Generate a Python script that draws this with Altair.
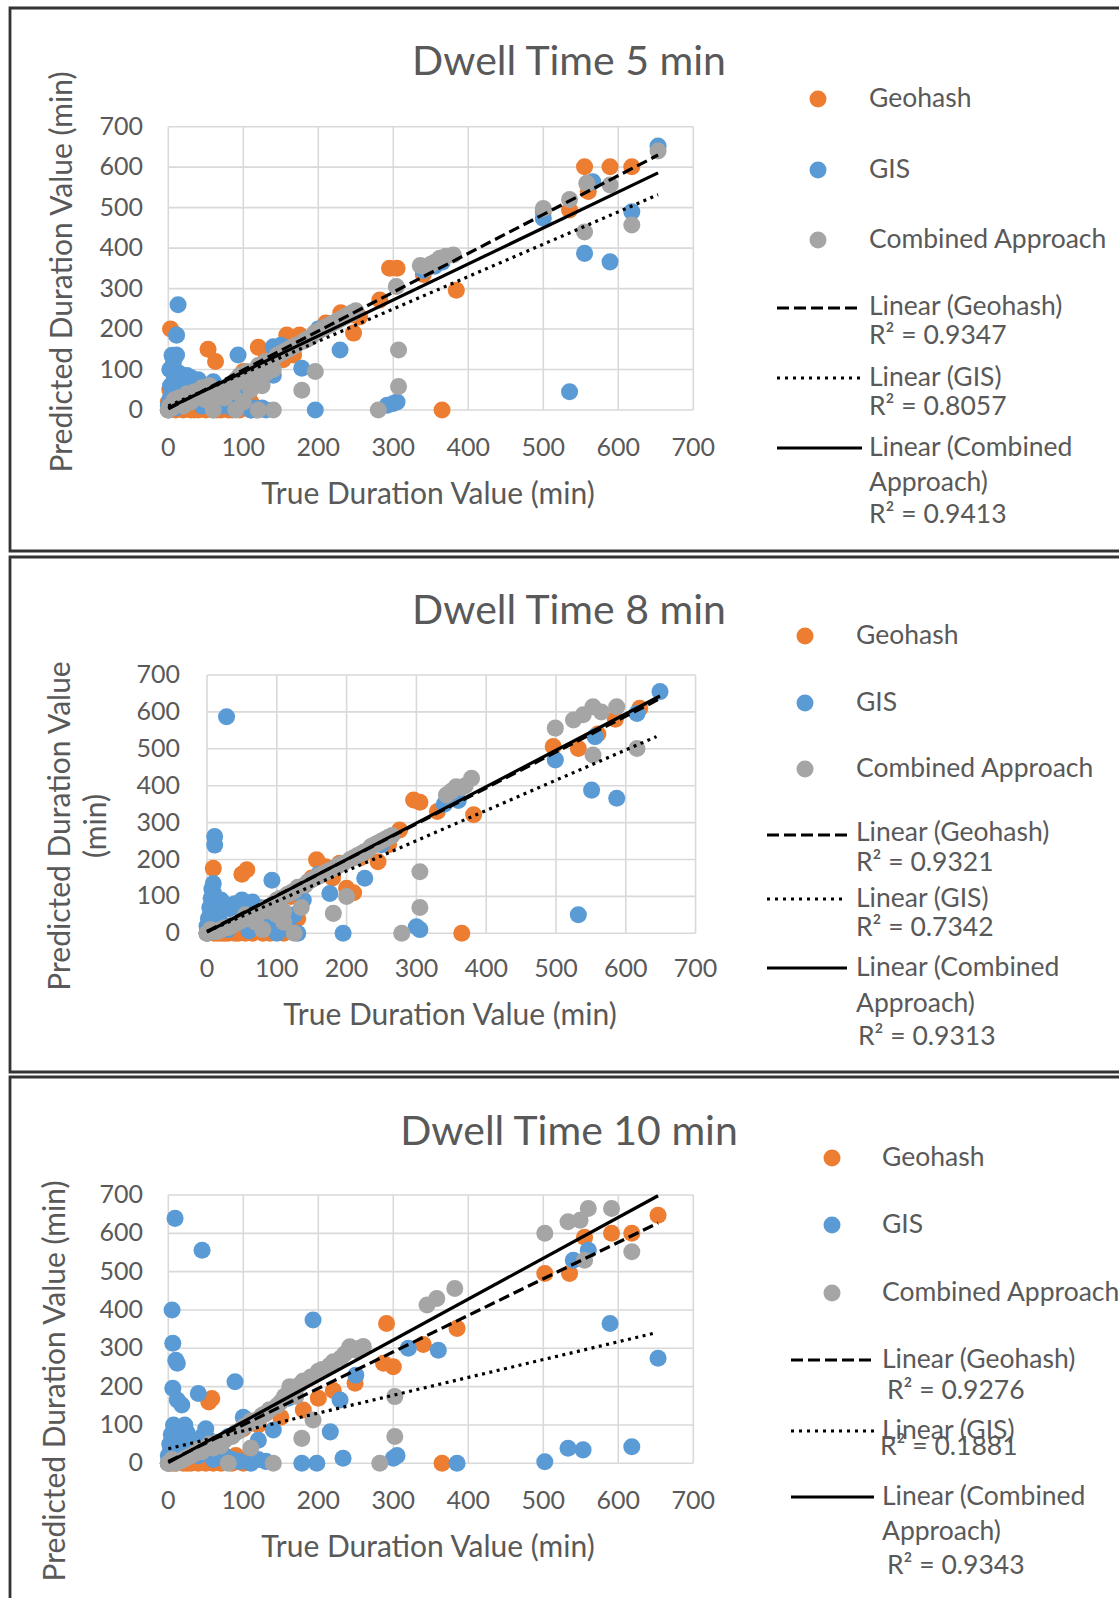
import altair as alt
import pandas as pd

# ---------------- data ----------------
TICKS = [0, 100, 200, 300, 400, 500, 600, 700]
SERIES = ["Geohash", "GIS", "Combined Approach"]
COLORS = ["#ED7D31", "#5B9BD5", "#A5A5A5"]
TITLES = ["Dwell Time 5 min", "Dwell Time 8 min", "Dwell Time 10 min"]
R2 = [["0.9347", "0.8057", "0.9413"],
      ["0.9321", "0.7342", "0.9313"],
      ["0.9276", "0.1881", "0.9343"]]

# panel 1 (Dwell Time 5 min): (true, predicted)
P1_GEO = [(0, 0), (5, 3), (10, 0), (15, 10), (20, 0), (30, 0), (40, 0), (50, 0), (60, 0), (70, 0),
          (80, 0), (90, 5), (3, 200), (8, 100), (12, 60), (20, 40), (53, 150), (63, 120), (100, 95),
          (120, 155), (110, 20), (130, 125), (150, 130), (153, 124), (158, 185), (167, 136), (175, 185),
          (185, 175), (200, 195), (210, 215), (215, 210), (230, 240), (245, 235), (247, 190), (255, 230),
          (282, 272), (295, 350), (305, 350), (365, 0), (384, 296), (340, 335), (535, 494), (555, 601),
          (589, 601), (618, 601), (500, 490), (560, 540),
          (0, 20), (2, 50), (35, 0), (25, 5), (45, 5), (65, 0), (85, 0), (95, 0), (75, 5), (110, 0)]
P1_GIS = [(0, 0), (2, 20), (5, 40), (3, 60), (8, 80), (5, 135), (11, 136), (11, 185), (13, 260), (15, 90),
          (20, 70), (30, 80), (40, 75), (25, 30), (45, 10), (60, 4), (70, 10), (50, 50), (93, 136), (100, 60),
          (118, 0), (115, 5), (140, 156), (140, 86), (178, 103), (196, 0), (229, 148), (150, 160), (200, 200),
          (292, 12), (300, 16), (305, 20), (340, 345), (355, 355), (365, 365), (500, 474), (535, 45),
          (555, 387), (589, 366), (618, 490), (566, 564), (653, 652), (80, 40), (60, 70), (160, 150), (35, 50),
          (0, 10), (3, 30), (6, 50), (2, 100), (7, 120), (10, 95), (18, 60), (25, 85), (35, 70), (45, 60),
          (55, 30), (65, 20), (75, 15), (85, 5), (100, 10), (110, 0), (125, 5), (130, 0), (10, 5), (20, 15)]
P1_COMB = [(0, 0), (5, 5), (10, 15), (20, 10), (30, 20), (40, 30), (50, 25), (60, 40), (70, 50), (80, 60),
           (90, 75), (95, 85), (100, 20), (105, 95), (110, 50), (120, 110), (125, 60), (130, 120), (140, 0),
           (145, 135), (160, 150), (170, 160), (178, 49), (180, 170), (190, 180), (196, 95), (200, 195),
           (210, 205), (220, 215), (230, 225), (240, 235), (250, 245), (280, 0), (304, 305), (307, 148),
           (307, 58), (336, 357), (350, 360), (362, 375), (380, 383), (500, 498), (535, 520), (558, 560),
           (555, 440), (589, 556), (618, 457), (653, 640), (60, 0), (90, 0), (120, 0),
           (2, 10), (8, 25), (15, 30), (25, 40), (35, 45), (45, 55), (55, 60), (65, 35), (75, 30), (85, 45),
           (100, 70), (115, 80), (130, 90), (140, 100), (150, 140), (155, 145), (165, 155), (185, 175),
           (195, 190), (205, 200), (215, 210), (225, 220), (235, 230), (245, 240), (345, 350), (355, 365),
           (370, 380)]

# panel 2 (Dwell Time 8 min)
P2_GEO = [(0, 0), (5, 5), (10, 0), (20, 0), (30, 0), (40, 0), (55, 0), (70, 10), (90, 20), (9, 176),
          (50, 160), (57, 172), (100, 60), (120, 100), (140, 130), (157, 199), (170, 180), (200, 122),
          (210, 110), (220, 205), (245, 194), (260, 240), (276, 280), (296, 361), (305, 355), (330, 330),
          (365, 0), (382, 321), (496, 506), (532, 501), (560, 540), (585, 580), (620, 610), (100, 30),
          (130, 40), (180, 150),
          (15, 0), (25, 0), (35, 5), (45, 0), (65, 0), (80, 0), (90, 0), (110, 0), (150, 150), (190, 190)]
P2_GIS = [(0, 0), (3, 20), (5, 50), (8, 80), (9, 110), (9, 135), (11, 239), (11, 262), (15, 60), (20, 90),
          (28, 587), (30, 70), (40, 80), (50, 90), (60, 75), (60, 7), (70, 60), (93, 144), (100, 80), (119, 9),
          (125, 50), (138, 90), (176, 108), (195, 0), (226, 149), (160, 160), (250, 240), (300, 18), (305, 10),
          (340, 350), (360, 360), (499, 470), (532, 50), (551, 388), (556, 533), (587, 366), (616, 596),
          (649, 655), (30, 10), (45, 40),
          (0, 20), (2, 40), (4, 70), (6, 95), (7, 120), (12, 85), (18, 75), (25, 80), (35, 65), (55, 80),
          (65, 85), (75, 70), (85, 60), (90, 40), (110, 20), (100, 0), (130, 0), (20, 30)]
P2_COMB = [(0, 0), (5, 10), (15, 5), (25, 15), (35, 20), (45, 30), (60, 40), (75, 55), (85, 70), (95, 80),
           (105, 95), (110, 30), (120, 110), (125, 0), (130, 125), (140, 130), (150, 145), (160, 155),
           (170, 165), (181, 54), (185, 180), (195, 190), (200, 100), (205, 200), (215, 210), (225, 220),
           (235, 235), (245, 245), (255, 255), (265, 265), (279, 0), (305, 167), (305, 70), (343, 375),
           (357, 397), (370, 400), (379, 420), (499, 556), (525, 578), (539, 592), (553, 614), (553, 483),
           (565, 600), (587, 614), (616, 501), (80, 10), (100, 50),
           (10, 5), (20, 10), (30, 15), (40, 25), (50, 35), (55, 50), (65, 45), (70, 30), (90, 60), (100, 90),
           (110, 60), (115, 105), (125, 115), (135, 70), (145, 140), (155, 150), (165, 160), (175, 170),
           (190, 185), (210, 205), (220, 215), (230, 225), (240, 240), (250, 250), (260, 260), (350, 385),
           (365, 395)]

# panel 3 (Dwell Time 10 min)
P3_GEO = [(0, 0), (5, 0), (15, 5), (25, 0), (40, 0), (60, 0), (75, 10), (90, 20), (54, 160), (58, 169),
          (100, 90), (120, 100), (150, 120), (180, 139), (200, 170), (220, 190), (249, 209), (287, 261),
          (291, 365), (300, 252), (340, 310), (365, 0), (385, 352), (502, 495), (535, 495), (555, 590),
          (591, 600), (618, 600), (653, 647), (130, 130),
          (10, 0), (20, 0), (30, 0), (50, 0), (70, 0), (85, 0), (100, 0), (110, 20), (45, 5)]
P3_GIS = [(0, 0), (3, 30), (5, 60), (8, 90), (9, 639), (45, 556), (5, 400), (6, 313), (10, 269), (12, 261),
          (6, 196), (12, 165), (18, 152), (40, 182), (89, 213), (12, 76), (20, 40), (30, 60), (40, 20),
          (50, 90), (60, 10), (70, 30), (100, 120), (140, 87), (193, 374), (216, 82), (229, 165), (233, 13),
          (178, 0), (198, 0), (160, 170), (250, 230), (300, 13), (305, 20), (320, 300), (360, 295), (385, 0),
          (502, 4), (533, 39), (553, 35), (540, 530), (560, 556), (589, 365), (618, 43), (653, 274),
          (120, 60), (80, 70),
          (0, 20), (2, 50), (4, 75), (7, 100), (10, 40), (15, 60), (25, 80), (35, 45), (45, 70), (55, 60),
          (65, 50), (75, 20), (85, 10), (95, 5), (110, 0), (120, 10), (130, 5), (5, 10), (15, 90), (22, 100)]
P3_COMB = [(0, 0), (5, 10), (15, 5), (30, 20), (45, 30), (60, 40), (75, 60), (90, 80), (100, 95),
           (110, 110), (120, 115), (130, 130), (140, 0), (150, 160), (162, 200), (170, 175), (178, 65),
           (180, 215), (193, 113), (200, 240), (215, 255), (230, 275), (242, 304), (255, 300), (282, 0),
           (302, 174), (302, 70), (345, 413), (358, 430), (382, 456), (502, 600), (533, 630), (549, 634),
           (555, 530), (560, 665), (591, 665), (618, 552), (80, 0), (110, 40),
           (10, 0), (20, 10), (25, 15), (35, 25), (40, 35), (50, 40), (55, 50), (65, 55), (70, 45), (85, 70),
           (95, 85), (105, 100), (115, 110), (125, 125), (135, 140), (145, 150), (155, 175), (165, 190),
           (175, 205), (190, 225), (205, 245), (220, 265), (235, 285), (250, 295), (260, 305)]

# linear trend lines: [x_start, y_start, x_end, y_end]
TREND = [
    [[0, 3, 653, 630], [0, 10, 653, 532], [0, 5, 653, 586]],
    [[0, 5, 649, 636], [0, 5, 644, 533], [0, 3, 649, 643]],
    [[0, 5, 653, 627], [0, 38, 647, 339], [0, 2, 653, 698]],
]
POINTS = [[P1_GEO, P1_GIS, P1_COMB], [P2_GEO, P2_GIS, P2_COMB], [P3_GEO, P3_GIS, P3_COMB]]

# ---------------- styling / layout ----------------
FONT = "Lato"
TXT = "#595959"
GRID = "#D9D9D9"
DASHES = [[11, 5], [3, 4.5], None]
LEG_DASHES = [[12, 5], [3, 5], None]
DOT = 290

LAYOUT = [
    dict(xr=[168.3, 693.3], yr=[410, 126.7], ylab_x=143, xlab_y=448, xtitle=(428, 495),
         ytitle=[(63, 272, "Predicted Duration Value (min)")], title=(569, 63),
         circ_x=818, text_x=869, circ_y=[99, 170, 240], line_x=(777, 862), line_y=[308, 378, 448],
         leg=[[(869, 307), (869, 336)], [(869, 378), (869, 407)], [(869, 448), (869, 483), (869, 515)]]),
    dict(xr=[207, 695.6], yr=[933.3, 675], ylab_x=180, xlab_y=969, xtitle=(450, 1016),
         ytitle=[(61, 826, "Predicted Duration Value"), (97, 826, "(min)")], title=(569, 612),
         circ_x=805, text_x=856, circ_y=[636, 703, 769], line_x=(767, 847), line_y=[835, 899, 968],
         leg=[[(856, 833), (856, 863)], [(856, 899), (856, 928)], [(856, 968), (856, 1004), (858, 1037)]]),
    dict(xr=[168.3, 693.3], yr=[1463.3, 1195], ylab_x=143, xlab_y=1501, xtitle=(428, 1548),
         ytitle=[(56, 1381, "Predicted Duration Value (min)")], title=(569, 1133),
         circ_x=832, text_x=882, circ_y=[1158, 1225, 1293], line_x=(791, 874), line_y=[1360, 1431, 1497],
         leg=[[(882, 1360), (887, 1391)], [(882, 1431), (880, 1447)], [(882, 1497), (882, 1532), (887, 1566)]]),
]
BORDERS = [(10, 8, 1130, 551), (10, 557, 1130, 1072), (10, 1077, 1130, 1610)]

ONE = pd.DataFrame({"k": [0]})


def text_mark(x, y, s, size=26.5, align="left", angle=0):
    m = alt.Chart(ONE).mark_text(font=FONT, fontSize=size, color=TXT, align=align,
                                 baseline="middle", angle=angle)
    return m.encode(x=alt.value(x), y=alt.value(y), text=alt.value(s))


def panel(i):
    L = LAYOUT[i]
    xs = alt.Scale(domain=[0, 700], range=L["xr"], nice=False, zero=False)
    ys = alt.Scale(domain=[0, 700], range=L["yr"], nice=False, zero=False)
    tk = pd.DataFrame({"t": TICKS})
    vgrid = alt.Chart(tk).mark_rule(color=GRID, strokeWidth=1.6).encode(
        x=alt.X("t:Q", scale=xs, axis=None),
        y=alt.YDatum(0, scale=ys, axis=None, type="quantitative"),
        y2=alt.Y2Datum(700))
    hgrid = alt.Chart(tk).mark_rule(color=GRID, strokeWidth=1.6).encode(
        y=alt.Y("t:Q", scale=ys, axis=None),
        x=alt.XDatum(0, scale=xs, axis=None, type="quantitative"),
        x2=alt.X2Datum(700))
    layers = [vgrid, hgrid]
    for k in range(3):
        df = pd.DataFrame(POINTS[i][k], columns=["x", "y"])
        layers.append(alt.Chart(df).mark_circle(size=DOT, opacity=1, color=COLORS[k]).encode(
            x=alt.X("x:Q", scale=xs, axis=None), y=alt.Y("y:Q", scale=ys, axis=None)))
    for k in range(3):
        x1, y1, x2, y2 = TREND[i][k]
        df = pd.DataFrame({"x1": [x1], "y1": [y1], "x2": [x2], "y2": [y2]})
        kw = dict(color="black", strokeWidth=3.2)
        if DASHES[k] is not None:
            kw["strokeDash"] = DASHES[k]
        layers.append(alt.Chart(df).mark_rule(**kw).encode(
            x=alt.X("x1:Q", scale=xs, axis=None), y=alt.Y("y1:Q", scale=ys, axis=None),
            x2="x2:Q", y2="y2:Q"))
    xlab = alt.Chart(tk).mark_text(font=FONT, fontSize=25, color=TXT, align="center",
                                   baseline="middle").encode(
        x=alt.X("t:Q", scale=xs, axis=None), y=alt.value(L["xlab_y"]),
        text=alt.Text("t:Q", format="d"))
    ylab = alt.Chart(tk).mark_text(font=FONT, fontSize=25, color=TXT, align="right",
                                   baseline="middle").encode(
        y=alt.Y("t:Q", scale=ys, axis=None), x=alt.value(L["ylab_x"]),
        text=alt.Text("t:Q", format="d"))
    layers += [xlab, ylab]
    return alt.layer(*layers)


def decorations(i):
    L = LAYOUT[i]
    out = []
    bx, by, bx2, by2 = BORDERS[i]
    out.append(alt.Chart(ONE).mark_rect(fillOpacity=0, stroke="#333333", strokeWidth=2.8).encode(
        x=alt.value(bx), x2=alt.value(bx2), y=alt.value(by), y2=alt.value(by2)))
    out.append(text_mark(L["title"][0], L["title"][1], TITLES[i], size=41, align="center"))
    out.append(text_mark(L["xtitle"][0], L["xtitle"][1], "True Duration Value (min)", size=30,
                         align="center"))
    for (tx, ty, s) in L["ytitle"]:
        out.append(text_mark(tx, ty, s, size=30, align="center", angle=270))
    for k in range(3):
        out.append(alt.Chart(ONE).mark_circle(size=DOT, opacity=1, color=COLORS[k]).encode(
            x=alt.value(L["circ_x"]), y=alt.value(L["circ_y"][k])))
        out.append(text_mark(L["text_x"], L["circ_y"][k], SERIES[k]))
    labels = [["Linear (Geohash)", "R\u00b2 = " + R2[i][0]],
              ["Linear (GIS)", "R\u00b2 = " + R2[i][1]],
              ["Linear (Combined", "Approach)", "R\u00b2 = " + R2[i][2]]]
    for k in range(3):
        kw = dict(color="black", strokeWidth=3.2)
        if LEG_DASHES[k] is not None:
            kw["strokeDash"] = LEG_DASHES[k]
        out.append(alt.Chart(ONE).mark_rule(**kw).encode(
            x=alt.value(L["line_x"][0]), x2=alt.value(L["line_x"][1]), y=alt.value(L["line_y"][k])))
        for (pos, s) in zip(L["leg"][k], labels[k]):
            out.append(text_mark(pos[0], pos[1], s))
    return out


layers = []
for i in range(3):
    layers.append(panel(i))
deco = []
for i in range(3):
    deco += decorations(i)

chart = alt.layer(*layers, *deco).resolve_scale(x="independent", y="independent").properties(
    width=1119, height=1598, padding=0, background="white",
    autosize=alt.AutoSizeParams(type="none"),
).configure_view(stroke=None)

chart.save("out.html", embed_options={"renderer": "svg", "actions": False})
